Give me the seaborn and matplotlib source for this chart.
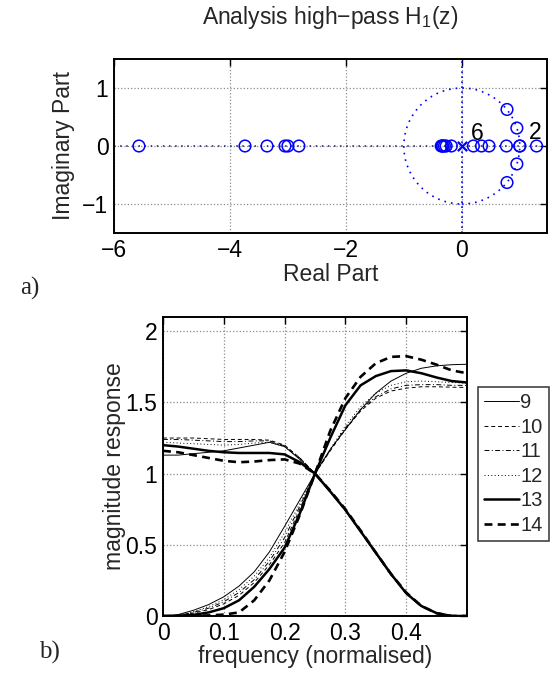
import numpy as np
import pandas as pd
import matplotlib
matplotlib.use("Agg")
import matplotlib.pyplot as plt
from matplotlib.lines import Line2D
from matplotlib.patches import Circle
import seaborn as sns

# ---- pole/zero data for the analysis high-pass filter H1(z) ----
zero_re = [-5.57, -3.74, -3.36, -3.05, -3.0, -2.81,
           -0.355, -0.335, -0.33, -0.30, -0.27, -0.18,
           0.20, 0.34, 0.47, 0.77, 1.0, 1.0, 1.29,
           0.78, 0.78, 0.95, 0.95]
zero_im = [0, 0, 0, 0, 0, 0,
           0, 0, 0, 0, 0, 0,
           0, 0, 0, 0, 0, 0, 0,
           0.63, -0.63, 0.31, -0.31]
pole_re = [0.0]
pole_im = [0.0]
multiplicity_labels = [("6", 0.27, 0.21), ("2", 1.27, 0.23)]

# ---- magnitude responses (normalised frequency) ----
freq = [0.0, 0.025, 0.05, 0.075, 0.1, 0.125, 0.15, 0.175, 0.2, 0.225,
        0.25, 0.275, 0.3, 0.325, 0.35, 0.375, 0.4, 0.425, 0.45, 0.475, 0.5]

lp9  = [1.13, 1.13, 1.14, 1.15, 1.16, 1.18, 1.20, 1.22, 1.19, 1.10,
        1.00, 0.875, 0.745, 0.595, 0.44, 0.29, 0.16, 0.07, 0.02, 0.0, 0.0]
lp10 = [1.25, 1.25, 1.25, 1.245, 1.24, 1.24, 1.24, 1.235, 1.20, 1.11,
        1.00, 0.87, 0.74, 0.59, 0.44, 0.29, 0.16, 0.07, 0.02, 0.0, 0.0]
lp11 = [1.24, 1.24, 1.235, 1.23, 1.225, 1.225, 1.23, 1.23, 1.195, 1.11,
        1.00, 0.87, 0.74, 0.59, 0.44, 0.29, 0.16, 0.07, 0.02, 0.0, 0.0]
lp12 = [1.22, 1.215, 1.21, 1.205, 1.20, 1.205, 1.215, 1.22, 1.19, 1.105,
        1.00, 0.872, 0.742, 0.592, 0.442, 0.292, 0.16, 0.07, 0.02, 0.0, 0.0]
lp13 = [1.20, 1.19, 1.175, 1.16, 1.15, 1.145, 1.145, 1.145, 1.135, 1.08,
        1.00, 0.875, 0.745, 0.595, 0.445, 0.295, 0.16, 0.07, 0.02, 0.0, 0.0]
lp14 = [1.16, 1.15, 1.13, 1.11, 1.09, 1.08, 1.085, 1.095, 1.10, 1.07,
        1.00, 0.88, 0.75, 0.60, 0.445, 0.295, 0.165, 0.07, 0.02, 0.0, 0.0]

hp9  = [0.0, 0.01, 0.04, 0.08, 0.135, 0.21, 0.31, 0.45, 0.63, 0.815,
        1.00, 1.17, 1.31, 1.45, 1.565, 1.65, 1.705, 1.74, 1.757, 1.765, 1.768]
hp10 = [0.0, 0.003, 0.02, 0.045, 0.085, 0.145, 0.235, 0.36, 0.515, 0.75,
        1.00, 1.16, 1.31, 1.44, 1.53, 1.58, 1.60, 1.61, 1.61, 1.607, 1.605]
hp11 = [0.0, 0.004, 0.025, 0.055, 0.10, 0.165, 0.255, 0.385, 0.55, 0.77,
        1.00, 1.165, 1.32, 1.45, 1.54, 1.595, 1.62, 1.625, 1.625, 1.62, 1.62]
hp12 = [0.0, 0.005, 0.03, 0.065, 0.115, 0.185, 0.28, 0.41, 0.585, 0.79,
        1.00, 1.17, 1.335, 1.47, 1.565, 1.62, 1.645, 1.65, 1.645, 1.64, 1.635]
hp13 = [0.0, 0.001, 0.008, 0.025, 0.055, 0.11, 0.205, 0.33, 0.48, 0.72,
        1.00, 1.25, 1.48, 1.62, 1.685, 1.72, 1.725, 1.705, 1.675, 1.65, 1.64]
hp14 = [0.0, 0.0, 0.001, 0.004, 0.01, 0.025, 0.11, 0.25, 0.45, 0.71,
        1.00, 1.30, 1.53, 1.68, 1.775, 1.82, 1.825, 1.80, 1.765, 1.725, 1.705]

orders = ["9", "10", "11", "12", "13", "14"]
lowpass = [lp9, lp10, lp11, lp12, lp13, lp14]
highpass = [hp9, hp10, hp11, hp12, hp13, hp14]

sns.set_theme(style="white")
plt.rcParams["font.family"] = ["Liberation Sans", "DejaVu Sans"]
plt.rcParams["mathtext.default"] = "regular"
FS = 16.5

def style_axes(ax):
    for sp in ax.spines.values():
        sp.set_color("black")
        sp.set_linewidth(1.4)
    ax.tick_params(direction="in", length=5, width=1.0, top=True, right=True,
                   labelsize=FS, colors="black", pad=4)
    ax.grid(True, color="0.55", linestyle=":", linewidth=0.9)

fig = plt.figure(figsize=(5.57, 6.73), dpi=100)
W, H = 557.0, 673.0

# ---------------- pole-zero plot ----------------
ax1 = fig.add_axes([114 / W, 1 - 233 / H, 433 / W, 174 / H])
style_axes(ax1)
blue = "#0000ff"
ax1.add_patch(Circle((0, 0), 1.0, fill=False, edgecolor=blue,
                     linestyle=(0, (1, 3)), linewidth=1.2, zorder=2))
ax1.axvline(0, color=blue, linestyle=(0, (1, 2)), linewidth=1.2, zorder=2)
ax1.axhline(0, color="#1a1a70", linestyle=(0, (1, 3)), linewidth=1.1, zorder=2)
sns.scatterplot(x=zero_re, y=zero_im, ax=ax1, marker="o", s=70,
                facecolors="none", edgecolor=blue, linewidth=1.1, zorder=3)
sns.scatterplot(x=pole_re, y=pole_im, ax=ax1, marker="x", s=45,
                color=blue, linewidth=1.6, zorder=3)
for txt, xx, yy in multiplicity_labels:
    ax1.text(xx, yy, txt, fontsize=FS, ha="center", va="center", color="black")
ax1.set_xlim(-6, 1.47)
ax1.set_ylim(-1.5, 1.5)
ax1.set_xticks([-6, -4, -2, 0])
ax1.set_yticks([-1, 0, 1])
ax1.set_xlabel("Real Part", fontsize=FS, labelpad=1)
ax1.set_ylabel("Imaginary Part", fontsize=FS, labelpad=5)
ax1.set_title("Analysis high\u2212pass H$_1$(z)", fontsize=FS, pad=25)

# ---------------- magnitude responses ----------------
rows = []
for name, lp, hp in zip(orders, lowpass, highpass):
    for f, v in zip(freq, lp):
        rows.append((f, v, name, "low"))
    for f, v in zip(freq, hp):
        rows.append((f, v, name, "high"))
df = pd.DataFrame(rows, columns=["freq", "mag", "order", "band"])

ax2 = fig.add_axes([163 / W, 1 - 616 / H, 304 / W, 299 / H])
style_axes(ax2)
palette = {k: "black" for k in orders}
dashes = {"9": "", "10": (4, 3), "11": (5, 2.5, 1, 2.5), "12": (1, 2.5),
          "13": "", "14": (3, 2)}
sizes = {"9": 0.7, "10": 0.7, "11": 0.7, "12": 0.7, "13": 1.8, "14": 1.9}
sns.lineplot(data=df, x="freq", y="mag", hue="order", style="order", size="order",
             units="band", estimator=None, palette=palette, dashes=dashes,
             sizes=sizes, hue_order=orders, style_order=orders, size_order=orders,
             legend=False, ax=ax2, zorder=3)
ax2.set_xlim(0, 0.5)
ax2.set_ylim(0, 2.1)
ax2.set_xticks([0, 0.1, 0.2, 0.3, 0.4])
ax2.set_xticklabels(["0", "0.1", "0.2", "0.3", "0.4"])
ax2.set_yticks([0, 0.5, 1, 1.5, 2])
ax2.set_yticklabels(["0", "0.5", "1", "1.5", "2"])
ax2.set_xlabel("frequency (normalised)", fontsize=FS, labelpad=0)
ax2.set_ylabel("magnitude response", fontsize=FS, labelpad=0)

handles = []
for k in orders:
    h = Line2D([0], [0], color="black", linewidth=sizes[k])
    if dashes[k]:
        h.set_dashes(dashes[k])
    handles.append(h)
leg = fig.legend(handles, orders, loc="upper left",
                 bbox_to_anchor=(478 / W, 1 - 387 / H), fontsize=14.5,
                 frameon=True, fancybox=False, handlelength=1.7,
                 handletextpad=0.08, labelspacing=0.27, borderpad=0.32,
                 borderaxespad=0.0)
leg.get_frame().set_edgecolor("black")
leg.get_frame().set_linewidth(1.1)

# panel tags
fig.text(30 / W, 1 - 288 / H, "a)", fontsize=18, family="Liberation Serif",
         ha="center", va="center")
fig.text(49 / W, 1 - 652 / H, "b)", fontsize=18, family="Liberation Serif",
         ha="center", va="center")

fig.savefig("out.png", dpi=100)
